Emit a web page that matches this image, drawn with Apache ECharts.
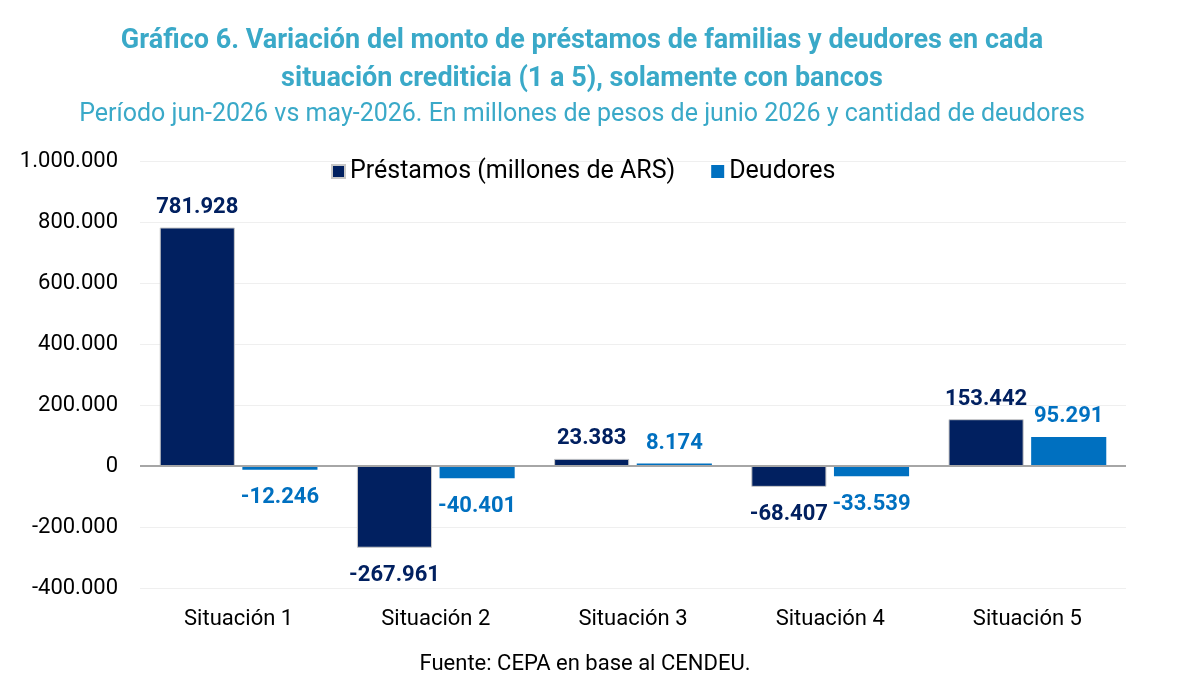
<!DOCTYPE html>
<html>
<head>
<meta charset="utf-8">
<script src="https://cdn.jsdelivr.net/npm/echarts@6/dist/echarts.min.js"></script>
<style>
  html, body { margin: 0; padding: 0; background: #fff; }
  #chart { width: 1186px; height: 692px; }
</style>
</head>
<body>
<div id="chart"></div>
<script>
const categories = ['Situación 1', 'Situación 2', 'Situación 3', 'Situación 4', 'Situación 5'];
const prestamos = [781928, -267961, 23383, -68407, 153442];
const deudores = [-12246, -40401, 8174, -33539, 95291];
const yTicks = { min: -400000, max: 1000000, interval: 200000 };

const FONT = 'Roboto';
const NAVY = '#012060';
const BLUE = '#0070C0';
const TEAL = '#3AA9C8';

function fmt(v) {
    const s = Math.abs(v).toString().replace(/\B(?=(\d{3})+(?!\d))/g, '.');
    return (v < 0 ? '-' : '') + s;
}

// negatives get their label under the bar, positives above
function withLabels(values) {
    return values.map(v => ({
        value: v,
        label: v < 0 ? { position: 'bottom', distance: 17 } : { position: 'top', distance: 9 }
    }));
}

const chart = echarts.init(document.getElementById('chart'));

chart.setOption({
    animation: false,
    textStyle: { fontFamily: FONT },
    title: [
        {
            text: 'Gráfico 6. Variación del monto de préstamos de familias y deudores en cada\nsituación crediticia (1 a 5), solamente con bancos',
            left: 577,
            top: 17,
            textAlign: 'center',
            textStyle: { fontFamily: FONT, fontSize: 27, fontWeight: 'bold', color: TEAL, lineHeight: 38 }
        },
        {
            text: 'Período jun-2026 vs may-2026. En millones de pesos de junio 2026 y cantidad de deudores',
            left: 577,
            top: 97,
            textAlign: 'center',
            textStyle: { fontFamily: FONT, fontSize: 25, fontWeight: 'normal', color: TEAL }
        },
        {
            text: 'Fuente: CEPA en base al CENDEU.',
            left: 580,
            top: 648,
            textAlign: 'center',
            textStyle: { fontFamily: FONT, fontSize: 22, fontWeight: 'normal', color: '#000' }
        }
    ],
    legend: {
        top: 154,
        left: 326,
        itemWidth: 13,
        itemHeight: 13,
        itemGap: 36,
        icon: 'rect',
        textStyle: { fontFamily: FONT, fontSize: 25, color: '#000' },
        data: ['Préstamos (millones de ARS)', 'Deudores']
    },
    grid: { left: 140, right: 60, top: 161, bottom: 104 },
    xAxis: {
        type: 'category',
        data: categories,
        axisLine: { show: false },
        axisTick: { show: false },
        axisLabel: { fontFamily: FONT, fontSize: 22, color: '#000', margin: 20 }
    },
    yAxis: {
        type: 'value',
        min: yTicks.min,
        max: yTicks.max,
        interval: yTicks.interval,
        axisLabel: { fontFamily: FONT, fontSize: 22, color: '#000', margin: 22, formatter: fmt },
        splitLine: { lineStyle: { color: '#efefef', width: 1 } },
        axisLine: { show: false },
        axisTick: { show: false }
    },
    series: [
        {
            name: 'Préstamos (millones de ARS)',
            type: 'bar',
            data: withLabels(prestamos),
            barCategoryGap: '20%',
            barGap: '10%',
            itemStyle: { color: NAVY, borderColor: '#c8c8c8', borderWidth: 1 },
            label: {
                show: true,
                fontFamily: FONT,
                fontSize: 22,
                fontWeight: 'bold',
                color: NAVY,
                formatter: p => fmt(p.value)
            },
            markLine: {
                silent: true,
                symbol: 'none',
                label: { show: false },
                lineStyle: { color: '#a6a6a6', width: 2, type: 'solid' },
                data: [{ yAxis: 0 }]
            }
        },
        {
            name: 'Deudores',
            type: 'bar',
            data: withLabels(deudores),
            itemStyle: { color: BLUE },
            label: {
                show: true,
                fontFamily: FONT,
                fontSize: 22,
                fontWeight: 'bold',
                color: BLUE,
                formatter: p => fmt(p.value)
            }
        }
    ]
});
</script>
</body>
</html>
